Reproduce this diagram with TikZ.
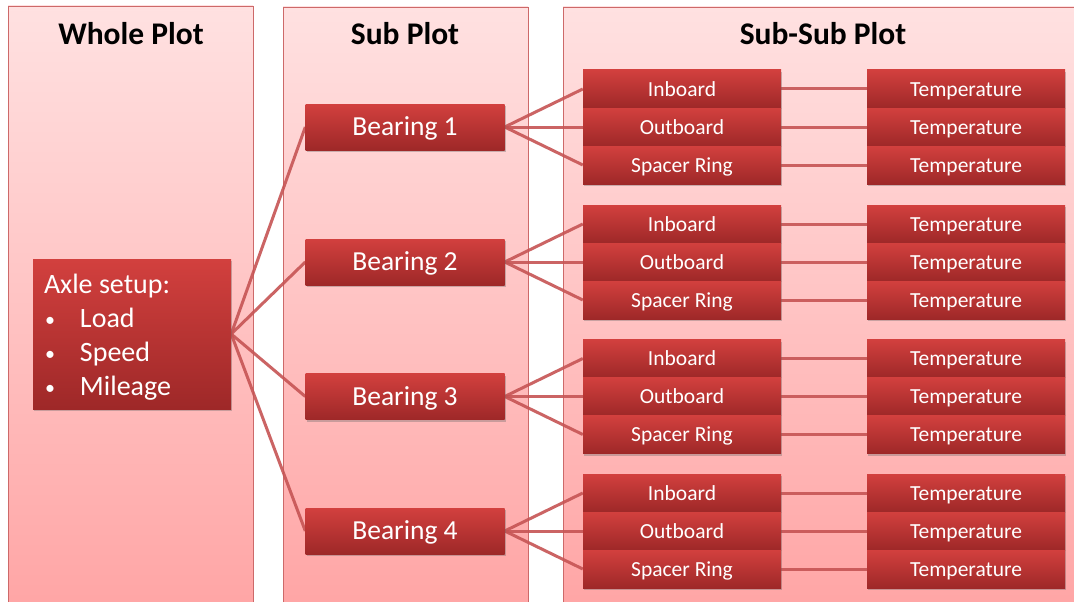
\documentclass[tikz,border=0pt]{standalone}
\usepackage{fontspec}
\setmainfont{Carlito}
\usetikzlibrary{shadows}
\pgfdeclarelayer{panels}
\pgfdeclarelayer{links}
\pgfsetlayers{panels,links,main}
\definecolor{panelline}{RGB}{205,105,105}
\definecolor{paneltop}{RGB}{255,225,225}
\definecolor{panelbottom}{RGB}{255,164,164}
\definecolor{boxtop}{RGB}{210,64,62}
\definecolor{boxbottom}{RGB}{158,40,40}
\definecolor{linkred}{RGB}{198,84,84}
\tikzset{
  panel/.style={draw=panelline, line width=0.8pt, top color=paneltop, bottom color=panelbottom},
  paneltitle/.style={font=\fontsize{31.5}{36}\selectfont\bfseries, text=black},
  redbox/.style={top color=boxtop, bottom color=boxbottom, text=white, inner sep=0pt,
    drop shadow={shadow xshift=1pt, shadow yshift=-2pt, opacity=0.35, fill=black!60}},
  bearingbox/.style={redbox, text height=17.5pt, text depth=0pt, minimum width=199pt, minimum height=46pt, font=\fontsize{27.5}{32}\selectfont},
  partbox/.style={redbox, text height=14pt, text depth=0pt, minimum width=198pt, minimum height=38pt, font=\fontsize{21.5}{26}\selectfont},
  link/.style={draw=linkred, line width=3pt, opacity=0.9}
}
\newcommand{\listdot}{\makebox[36pt][l]{\hspace{1pt}\raisebox{1pt}{\fontsize{20}{20}\selectfont•}}}
\begin{document}
\begin{tikzpicture}[x=1pt,y=-1pt]
\useasboundingbox (0,0) rectangle (1074,602);
\clip (0,0) rectangle (1074,602);

% column panels
\begin{pgfonlayer}{panels}
  \fill[white] (0,0) rectangle (1074,602);
  \path[panel] (8,6) rectangle (253,620);
  \path[panel] (283,7) rectangle (528,620);
  \path[panel] (563,7) rectangle (1085,620);
\end{pgfonlayer}

\node[paneltitle] (tw) at (131,34) {Whole Plot};
\node[paneltitle] (ts) at (405,34) {Sub Plot};
\node[paneltitle] (tss) at (823,34) {Sub-Sub Plot};

% whole-plot box (natural word spacing inside the left-aligned block)
\node[redbox, minimum width=198pt, minimum height=150pt, text width=176pt,
      inner xsep=11pt, align=left, font=\fontsize{28}{34}\selectfont] (axle) at (132,334)
  {\spaceskip=0pt\xspaceskip=0pt\rule{0pt}{26pt}Axle setup:\\
   \listdot Load\\
   \listdot Speed\\
   \listdot Mileage};

% bearings with their parts and temperature readings
\foreach \i/\yc in {1/127,2/262,3/396.5,4/531}{
  \node[bearingbox] (b\i) at (405,\yc) {Bearing \i};
  \node[partbox] (in\i) at (682,\yc-38) {Inboard};
  \node[partbox] (out\i) at (682,\yc) {Outboard};
  \node[partbox] (sp\i) at (682,\yc+38) {Spacer Ring};
  \node[partbox] (tin\i) at (966,\yc-38) {Temperature};
  \node[partbox] (tout\i) at (966,\yc) {Temperature};
  \node[partbox] (tsp\i) at (966,\yc+38) {Temperature};
  \begin{pgfonlayer}{links}
    \draw[link] (axle.east) -- (b\i.west);
    \draw[link] (b\i.east) -- (in\i.west);
    \draw[link] (b\i.east) -- (out\i.west);
    \draw[link] (b\i.east) -- (sp\i.west);
    \draw[link] (in\i.east) -- (tin\i.west);
    \draw[link] (out\i.east) -- (tout\i.west);
    \draw[link] (sp\i.east) -- (tsp\i.west);
  \end{pgfonlayer}
}
\end{tikzpicture}
\end{document}
